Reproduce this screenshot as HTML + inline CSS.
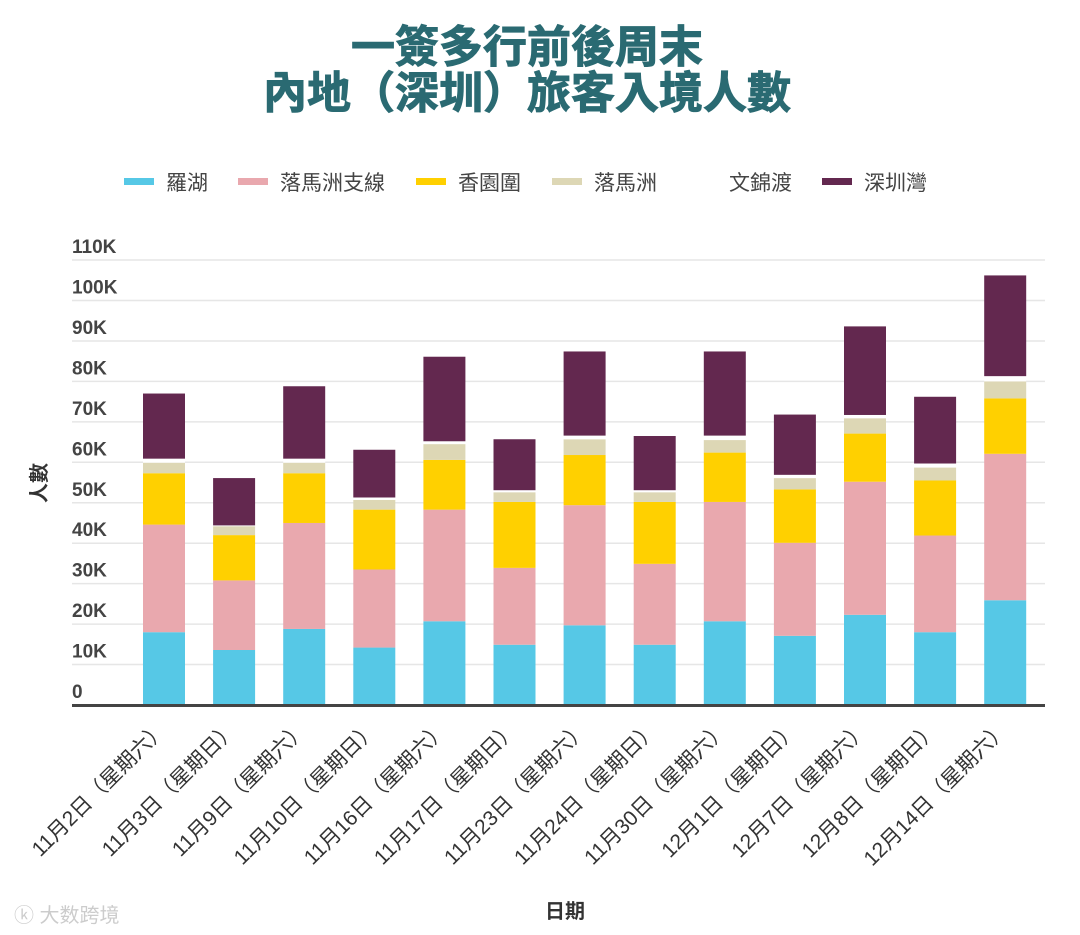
<!DOCTYPE html>
<html><head><meta charset="utf-8">
<style>
html,body{margin:0;padding:0;background:#fff;}
svg{display:block;}
text{font-family:"Liberation Sans","Noto Sans CJK TC",sans-serif;}
</style></head>
<body>
<svg id="chart" width="1080" height="935" viewBox="0 0 1080 935">
<g>
<text x="527" y="62" text-anchor="middle" font-size="44" font-weight="bold" fill="#2a6a72" stroke="#2a6a72" stroke-width="1">一簽多行前後周末</text>
<text x="527" y="108" text-anchor="middle" font-size="44" font-weight="bold" fill="#2a6a72" stroke="#2a6a72" stroke-width="1">內地（深圳）旅客入境人數</text>
</g>
<g id="legend"></g>
<g id="grid"></g>
<g id="bars"></g>
<g id="xlabels"></g>
<line x1="72" y1="705.5" x2="1045" y2="705.5" stroke="#444" stroke-width="3"/>
<text x="46" y="483" text-anchor="middle" font-size="20" font-weight="bold" fill="#333" transform="rotate(-90 46 483)">人數</text>
<text x="565" y="918" text-anchor="middle" font-size="20" font-weight="bold" fill="#333">日期</text>
<text x="14" y="922" font-size="20" fill="#ccc">ⓚ 大数跨境</text>
</svg>
<script>
const categories=["11月2日（星期六）","11月3日（星期日）","11月9日（星期六）","11月10日（星期日）","11月16日（星期六）","11月17日（星期日）","11月23日（星期六）","11月24日（星期日）","11月30日（星期六）","12月1日（星期日）","12月7日（星期六）","12月8日（星期日）","12月14日（星期六）"];
const seriesNames=["羅湖","落馬洲支線","香園圍","落馬洲","文錦渡","深圳灣"];
const seriesColors=["#56c8e6","#e9a8ae","#ffd000","#ddd7b5","#ffffff","#63284f"];
const luohu=[18.0,13.6,18.8,14.2,20.7,14.9,19.7,14.9,20.7,17.1,22.3,18.0,25.9];
const lmcSpur=[26.6,17.2,26.2,19.3,27.6,19.0,29.7,20.0,29.5,23.0,32.9,23.9,36.2];
const heungYuenWai=[12.7,11.2,12.3,14.8,12.3,16.3,12.4,15.3,12.2,13.2,11.9,13.6,13.7];
const lokMaChau=[2.6,2.2,2.6,2.4,3.9,2.4,3.9,2.4,3.1,2.8,3.8,3.2,4.2];
const manKamTo=[1.0,0.2,1.0,0.6,0.7,0.5,0.9,0.5,1.1,0.8,0.8,1.0,1.3];
const shenzhenBay=[16.1,11.7,17.9,11.8,20.9,12.6,20.8,13.4,20.8,14.9,21.9,16.5,24.9];
const yTicks=[0,10,20,30,40,50,60,70,80,90,100,110];
const series=[luohu,lmcSpur,heungYuenWai,lokMaChau,manKamTo,shenzhenBay];
const NS="http://www.w3.org/2000/svg";
const K=4.045;
function y(v){return 705-v*K;}
function xc(i){return 164+i*70.1;}
const bw=42;
function mk(tag,attrs,parent){const e=document.createElementNS(NS,tag);for(const k in attrs)e.setAttribute(k,attrs[k]);parent.appendChild(e);return e;}
const grid=document.getElementById('grid');
yTicks.forEach(t=>{
  if(t>0){const l=mk('line',{x1:72,x2:1045,y1:y(t),y2:y(t),stroke:'#e6e6e6','stroke-width':1.5},grid);
  
  }
  const tx=mk('text',{x:72,y:y(t)-7,'font-size':19,'font-weight':'bold',fill:'#444'},grid);
  tx.textContent=t===0?'0':t+'K';
  
  
});
const bars=document.getElementById('bars');
categories.forEach((c,i)=>{
  let base=0;
  series.forEach((s,k)=>{
    const v=s[i];
    const r=mk('rect',{x:xc(i)-bw/2,y:y(base+v),width:bw,height:v*K,fill:seriesColors[k]},bars);
    
    
    base+=v;
  });
});
const xl=document.getElementById('xlabels');
categories.forEach((c,i)=>{
  const x=xc(i)+4,yy=730;
  const t=mk('text',{x:x,y:yy,'text-anchor':'end','font-size':21,fill:'#333',transform:`rotate(-45 ${x} ${yy})`},xl);
  t.textContent=c;
  
  
});
const lg=document.getElementById('legend');
const lx=[124,238,416,552,687,822];
seriesNames.forEach((n,k)=>{
  const sw=mk('rect',{x:lx[k],y:178,width:30,height:7,fill:seriesColors[k]},lg);
  
  
  const t=mk('text',{x:lx[k]+42,y:190,'font-size':21,fill:'#444'},lg);
  t.textContent=n;
  
  
});
</script>
</body></html>
